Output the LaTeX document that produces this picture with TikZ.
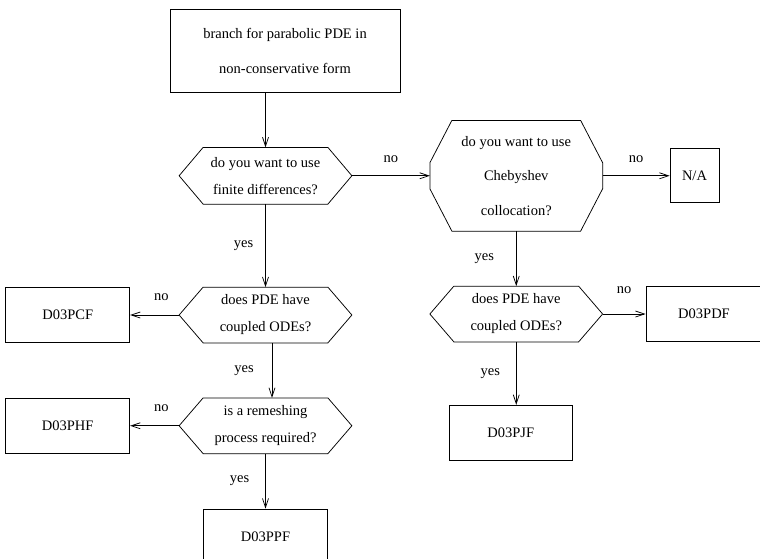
\documentclass[tikz,border=0pt]{standalone}
\usepackage{fontspec}
\setmainfont{Liberation Serif}
\usetikzlibrary{positioning,calc,arrows.meta}
\tikzset{%
  process/.style={%
    draw, rectangle, minimum width=124pt, minimum height=55pt,
    inner sep=0pt, align=center
  },
  decision/.style={%
    rectangle, minimum width=172pt, minimum height=55pt,
    inner sep=0pt, align=center,
    font=\fontsize{14.5}{27}\selectfont
  },
  question/.style={%
    decision, minimum height=110pt,
    font=\fontsize{14.5}{34.5}\selectfont
  },
  arrow/.style={->,>={Straight Barb[length=9pt,width=6pt]}},
}
\begin{document}
\begin{tikzpicture}[line width=0.75pt, font=\fontsize{14.5}{17}\selectfont]
  \useasboundingbox (0,0) rectangle (760pt,-558pt);
  % left column
  \node (BRANCH)[process, minimum width=230pt, minimum height=83pt,
    font=\fontsize{14.5}{35}\selectfont] at (285pt,-50.5pt)
    {branch for parabolic PDE in\\non-conservative form};
  \node (FiniteDiff)[decision, minimum height=56pt,
    below=55pt of BRANCH, xshift=-19.5pt]
    {do you want to use\\finite differences?};
  \node (CoupledLeft)[decision, below=83pt of FiniteDiff]
    {does PDE have\\coupled ODEs?};
  \node (D03PCF)[process, left=49pt of CoupledLeft] {D03PCF};
  \node (Remesh)[decision, below=55pt of CoupledLeft]
    {is a remeshing\\process required?};
  \node (D03PHF)[process, left=49pt of Remesh] {D03PHF};
  \node (D03PPF)[process, below=55pt of Remesh] {D03PPF};
  % right column
  \node (Chebyshev)[question, right=78pt of FiniteDiff]
    {do you want to use\\Chebyshev\\collocation?};
  \node (NA)[process, minimum width=49pt, minimum height=54pt,
    right=67pt of Chebyshev] {N/A};
  \node (CoupledRight)[decision, below=55pt of Chebyshev]
    {does PDE have\\coupled ODEs?};
  \node (D03PDF)[process, minimum width=116pt,
    right=43pt of CoupledRight] {D03PDF};
  \node (D03PJF)[process, minimum width=123pt,
    below=63pt of CoupledRight, xshift=-5.5pt] {D03PJF};

  % hexagon outlines
  \foreach \n in {FiniteDiff,CoupledLeft,Remesh,CoupledRight}
    \draw ($(\n.north west)+(24pt,0)$) -- ($(\n.north east)-(24pt,0)$)
      -- (\n.east) -- ($(\n.south east)-(24pt,0)$)
      -- ($(\n.south west)+(24pt,0)$) -- (\n.west) -- cycle;
  % octagon outline
  \draw ($(Chebyshev.north west)+(22pt,0)$) -- ($(Chebyshev.north east)-(22pt,0)$)
    -- ($(Chebyshev.east)+(0,13pt)$) -- ($(Chebyshev.east)-(0,13pt)$)
    -- ($(Chebyshev.south east)-(22pt,0)$) -- ($(Chebyshev.south west)+(22pt,0)$)
    -- ($(Chebyshev.west)-(0,13pt)$) -- ($(Chebyshev.west)+(0,13pt)$) -- cycle;

  \path[arrow]
    (BRANCH.south -| FiniteDiff.north) edge (FiniteDiff.north)
    (FiniteDiff) edge node[above=9pt] {no} (Chebyshev)
    (Chebyshev) edge node[above=9pt] {no} (NA)
    (FiniteDiff) edge node[left=8.5pt] {yes} (CoupledLeft)
    (CoupledLeft) edge node[pos=.36, above=11pt] {no} (D03PCF)
    ([xshift=6.5pt]CoupledLeft.south) edge node[left=14.5pt] {yes}
      ([xshift=6.5pt]Remesh.north)
    (Remesh) edge node[pos=.36, above=10pt] {no} (D03PHF)
    (Remesh) edge node[left=12.5pt] {yes} (D03PPF)
    (Chebyshev) edge node[left=18.5pt] {yes} (CoupledRight)
    (CoupledRight) edge node[above=17pt] {no} (D03PDF)
    (CoupledRight.south) edge node[left=12.5pt] {yes}
      (CoupledRight.south |- D03PJF.north)
    ;
\end{tikzpicture}
\end{document}
